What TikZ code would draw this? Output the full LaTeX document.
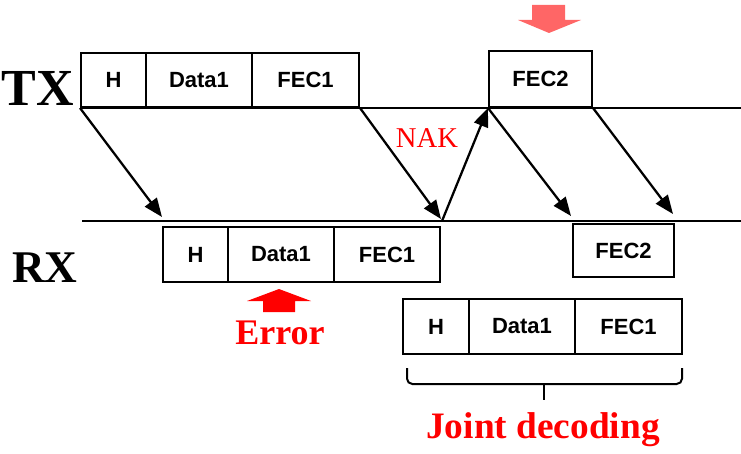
\documentclass[tikz,border=0pt]{standalone}
\usepackage{fontspec}
\setmainfont{Liberation Serif}
\newfontfamily\arialfont{Liberation Sans}
\usetikzlibrary{arrows.meta}
\definecolor{pinkred}{HTML}{FF6666}
\tikzset{
  cell/.style n args={4}{draw, line width=1.5pt, inner sep=0pt,
    minimum width={(#2-#1)*0.75pt}, minimum height={(#4-#3)*0.75pt},
    at={({(#1+#2)/2},{(#3+#4)/2})},
    font=\arialfont\bfseries\fontsize{16.5}{16.5}\selectfont},
  axis/.style={line width=1.4pt},
  msg/.style={line width=1.7pt, -{Triangle[length=14pt,width=11pt]}},
  lbl/.style={font=\bfseries\fontsize{#1}{#1}\selectfont, inner sep=0pt},
  redtxt/.style={text=red, inner sep=0pt},
}
\begin{document}
\begin{tikzpicture}[x=0.75pt,y=-0.75pt]
\useasboundingbox (0,0) rectangle (741,453);

% time lines
\coordinate (txL) at (81,108);
\coordinate (txR) at (741,108);
\coordinate (rxL) at (82,221);
\coordinate (rxR) at (741,221);
\draw[axis] (txL) -- (txR);
\draw[axis] (rxL) -- (rxR);

% labels
\node[lbl=39] (tx) at (38,88) {TX};
\node[lbl=34] (rx) at (45,268) {RX};

% transmitted packet
\node[cell={81}{146}{53}{107}] (th) {H};
\node[cell={146}{252}{53}{107}] (td) {Data1};
\node[cell={252}{359}{53}{107}] (tf) {FEC1};
\node[cell={489}{592}{51}{107}] (tf2) {FEC2};

% received packet
\node[cell={163}{228}{227}{282}] (rh) {H};
\node[cell={228}{334}{227}{282}] (rd) {Data1};
\node[cell={334}{440}{227}{282}] (rf) {FEC1};
\node[cell={573}{674}{224}{277}] (rf2) {FEC2};

% combined packet
\node[cell={403}{469}{299}{354}] (jh) {H};
\node[cell={469}{575}{299}{354}] (jd) {Data1};
\node[cell={575}{682}{299}{354}] (jf) {FEC1};

% propagation arrows
\coordinate (a1) at (162,217);
\coordinate (a2) at (441,219);
\coordinate (a3) at (442,221);
\coordinate (a4) at (571,216);
\coordinate (a5) at (673,214);
\draw[msg] (th.south west) -- (a1);
\draw[msg] (tf.south east) -- (a2);
\draw[msg] (a3) -- (tf2.south west);
\draw[msg] (tf2.south west) -- (a4);
\draw[msg] (tf2.south east) -- (a5);

\node[redtxt, font=\fontsize{21.5}{21.5}\selectfont] (nak) at (427,138) {NAK};

% error marker
\fill[red] (279,289) -- (311,301) -- (295,301) -- (295,312) -- (263,312) -- (263,301) -- (247,301) -- cycle;
\node[redtxt, font=\bfseries\fontsize{27}{27}\selectfont] (err) at (280,333) {Error};

% retransmission marker
\fill[pinkred] (532,5) -- (565,5) -- (565,20) -- (581,20) -- (549,33) -- (518,20) -- (532,20) -- cycle;

% brace under combined packet
\draw[line width=1.5pt, rounded corners=4pt] (407,368) -- (407,384) -- (682,384) -- (682,368);
\draw[line width=1.5pt] (544,384) -- (544,400);
\node[redtxt, font=\bfseries\fontsize{28}{28}\selectfont] (jdec) at (543,430) {Joint decoding};
\end{tikzpicture}
\end{document}
